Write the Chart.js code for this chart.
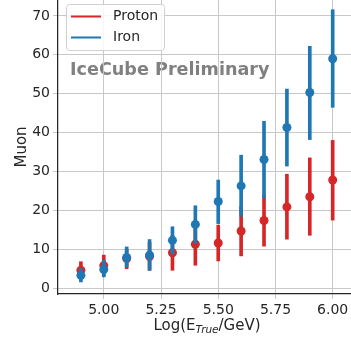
<!DOCTYPE html>
<html>
<head>
<meta charset="utf-8">
<script src="https://cdn.jsdelivr.net/npm/chart.js@4.4.1/dist/chart.umd.min.js"></script>
<style>
  html, body { margin: 0; padding: 0; background: #fff; overflow: hidden; }
  canvas { display: block; }
</style>
</head>
<body>
<canvas id="myChart" width="351" height="337"></canvas>
<script>
const energies = [4.9, 5.0, 5.1, 5.2, 5.3, 5.4, 5.5, 5.6, 5.7, 5.8, 5.9, 6.0];

const protonMean = [4.6, 5.8, 7.6, 8.2, 9.1, 11.3, 11.6, 14.7, 17.4, 20.9, 23.5, 27.8];
const protonLow = [2.5, 3.2, 5.0, 4.6, 4.6, 5.9, 7.0, 8.3, 10.8, 12.6, 13.6, 17.5];
const protonHigh = [6.8, 8.5, 10.0, 11.8, 13.5, 16.5, 16.2, 21.0, 23.9, 29.3, 33.5, 38.0];

const ironMean = [3.3, 4.8, 7.9, 8.5, 12.3, 16.4, 22.3, 26.3, 33.1, 41.3, 50.3, 59.0];
const ironLow = [1.6, 2.9, 5.5, 4.6, 8.8, 11.5, 16.6, 18.5, 23.2, 31.4, 38.2, 46.5];
const ironHigh = [5.1, 7.2, 10.6, 12.5, 15.8, 21.2, 27.8, 34.2, 42.9, 51.2, 62.2, 71.6];

const xTicks = [5.0, 5.25, 5.5, 5.75, 6.0];
const yTicks = [0, 10, 20, 30, 40, 50, 60, 70];

const RED = "#d62728";
const BLUE = "#1f77b4";
const FONT = "'DejaVu Sans', sans-serif";

const points = (ys) => energies.map((x, i) => ({ x: x, y: ys[i] }));
const ranges = (lo, hi) => energies.map((x, i) => ({ x: x, y: [lo[i], hi[i]] }));

const overlay = {
  id: "overlay",
  beforeDraw(chart) {
    const c = chart.ctx;
    c.save();
    c.font = "bold 17.6px " + FONT;
    c.fillStyle = "#808080";
    c.textBaseline = "alphabetic";
    c.fillText("IceCube Preliminary", 70, 75);
    c.restore();
  },
  afterDraw(chart) {
    const c = chart.ctx;
    c.save();
    // legend
    c.beginPath();
    c.roundRect(66.5, 4.5, 98, 46, 3);
    c.fillStyle = "rgba(255,255,255,0.85)";
    c.fill();
    c.strokeStyle = "#d0d0d0";
    c.lineWidth = 1;
    c.stroke();
    const entries = [["Proton", RED, 16.5], ["Iron", BLUE, 37.5]];
    c.font = "14px " + FONT;
    c.textBaseline = "middle";
    entries.forEach(([label, col, y]) => {
      c.beginPath();
      c.moveTo(71, y);
      c.lineTo(101, y);
      c.strokeStyle = col;
      c.lineWidth = 2;
      c.stroke();
      c.fillStyle = "#262626";
      c.fillText(label, 113, y);
    });
    // x title with subscript
    const a = "Log(E", sub = "True", b = "/GeV)";
    const big = "15px " + FONT, small = "italic 10.5px " + FONT;
    c.font = big;
    const wa = c.measureText(a).width, wb = c.measureText(b).width;
    c.font = small;
    const ws = c.measureText(sub).width;
    let x = 207 - (wa + ws + wb) / 2;
    const base = 330;
    c.textBaseline = "alphabetic";
    c.fillStyle = "#262626";
    c.font = big;
    c.fillText(a, x, base);
    x += wa;
    c.font = small;
    c.fillText(sub, x, base + 3);
    x += ws;
    c.font = big;
    c.fillText(b, x, base);
    c.restore();
  },
};

const ctx = document.getElementById("myChart").getContext("2d");

new Chart(ctx, {
  type: "bar",
  data: {
    datasets: [
      {
        label: "Proton",
        data: ranges(protonLow, protonHigh),
        backgroundColor: RED,
        barThickness: 3,
        grouped: false,
        order: 4,
      },
      {
        type: "scatter",
        label: "Proton",
        data: points(protonMean),
        backgroundColor: RED,
        borderWidth: 0,
        pointRadius: 4.5,
        order: 3,
      },
      {
        label: "Iron",
        data: ranges(ironLow, ironHigh),
        backgroundColor: BLUE,
        barThickness: 3,
        grouped: false,
        order: 2,
      },
      {
        type: "scatter",
        label: "Iron",
        data: points(ironMean),
        backgroundColor: BLUE,
        borderWidth: 0,
        pointRadius: 4.5,
        order: 1,
      },
    ],
  },
  options: {
    responsive: false,
    animation: false,
    layout: { padding: 0, autoPadding: false },
    plugins: {
      legend: { display: false },
      tooltip: { enabled: false },
    },
    scales: {
      x: {
        type: "linear",
        offset: false,
        min: 4.8,
        max: 6.08,
        afterBuildTicks: (s) => { s.ticks = xTicks.map((v) => ({ value: v })); },
        afterFit: (s) => {
          s.height = 43;
          s.paddingLeft = 0;
          s.paddingRight = 0;
        },
        grid: { color: "#c8c8c8", lineWidth: 1, tickLength: 5, offset: false },
        border: { color: "#262626", width: 1.25 },
        ticks: {
          color: "#262626",
          font: { family: FONT, size: 14 },
          padding: 3,
          maxRotation: 0,
          callback: (v) => Number(v).toFixed(2),
        },
      },
      y: {
        min: -1.5,
        max: 74.1,
        afterBuildTicks: (s) => { s.ticks = yTicks.map((v) => ({ value: v })); },
        afterFit: (s) => {
          s.width = 58;
          s.paddingTop = 0;
          s.paddingBottom = 0;
        },
        grid: { color: "#c8c8c8", lineWidth: 1, tickLength: 5 },
        border: { color: "#262626", width: 1.25 },
        ticks: {
          color: "#262626",
          font: { family: FONT, size: 14 },
          padding: 3,
          callback: (v) => String(v),
        },
        title: {
          display: true,
          text: "Muon",
          color: "#262626",
          font: { family: FONT, size: 15 },
          padding: { top: 13, bottom: 0 },
        },
      },
    },
  },
  plugins: [overlay],
});
</script>
</body>
</html>
